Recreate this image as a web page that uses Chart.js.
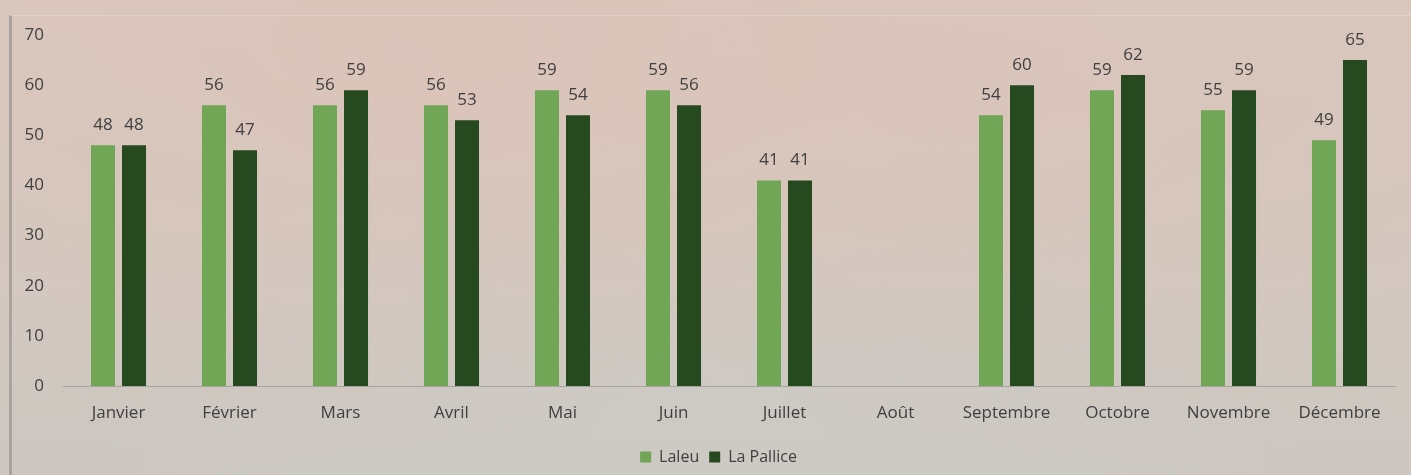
<!DOCTYPE html>
<html>
<head>
<meta charset="utf-8">
<script src="https://cdn.jsdelivr.net/npm/chart.js@4"></script>
<style>
  html, body { margin: 0; padding: 0; }
  body {
    width: 1411px; height: 475px; overflow: hidden;
    background:
      radial-gradient(ellipse at 30% 10%, rgba(220,195,185,0.8), rgba(220,195,185,0) 60%),
      radial-gradient(ellipse at 75% 20%, rgba(218,196,186,0.7), rgba(218,196,186,0) 55%),
      radial-gradient(ellipse at 50% 95%, rgba(205,202,196,0.9), rgba(205,202,196,0) 60%),
      linear-gradient(#d8c8bf, #d2c8c0 60%, #ccc7c1);
    font-family: "Open Sans", sans-serif;
  }
  #cadre {
    position: absolute; left: 9px; top: 15px; width: 1402px; height: 460px;
    border-left: 3px solid #aaa29d; border-top: 1px solid rgba(235,228,222,0.4);
    box-sizing: border-box;
  }
  #wrap { position: absolute; left: 0; top: 0; width: 1411px; height: 475px; }
</style>
</head>
<body>
<div id="cadre"></div>
<div id="wrap"><canvas id="myChart" width="1411" height="475"></canvas></div>
<script>
// Données
const mois = ["Janvier", "Février", "Mars", "Avril", "Mai", "Juin", "Juillet", "Août", "Septembre", "Octobre", "Novembre", "Décembre"];
const laleu = [48, 56, 56, 56, 59, 59, 41, null, 54, 59, 55, 49];
const laPallice = [48, 47, 59, 53, 54, 56, 41, null, 60, 62, 59, 65];
const yTicks = [0, 10, 20, 30, 40, 50, 60, 70];

// Plugin pour écrire les valeurs au-dessus des barres
const etiquettes = {
    id: "etiquettes",
    afterLayout(chart) {
        // la légende est un peu décalée vers la droite dans l'original
        chart.legend.left += 21;
        chart.legend.right += 21;
    },
    afterDatasetsDraw(chart) {
        const ctx = chart.ctx;
        ctx.save();
        ctx.font = "17px 'Open Sans'";
        ctx.fillStyle = "#404040";
        ctx.textAlign = "center";
        ctx.textBaseline = "alphabetic";
        chart.data.datasets.forEach((ds, i) => {
            chart.getDatasetMeta(i).data.forEach((bar, j) => {
                if (ds.data[j] == null) return;
                ctx.fillText(ds.data[j], bar.x, bar.y - 15);
            });
        });
        ctx.restore();
    }
};

const config = {
    type: "bar",
    data: {
        labels: mois,
        datasets: [
            { label: "Laleu", data: laleu, backgroundColor: "#70a655" },
            { label: "La Pallice", data: laPallice, backgroundColor: "#26491f" }
        ]
    },
    options: {
        responsive: false,
        animation: false,
        categoryPercentage: 0.559,
        barPercentage: 0.774,
        layout: { padding: { top: 35, right: 16, left: 0, bottom: 0 } },
        plugins: {
            legend: {
                position: "bottom",
                labels: {
                    boxWidth: 11, boxHeight: 11, padding: 10,
                    color: "#404040", font: { family: "'Open Sans'", size: 16 }
                }
            },
            tooltip: { enabled: false }
        },
        scales: {
            x: {
                afterFit(scale) { scale.height = 53; },
                grid: { display: false },
                border: { color: "#a6a29e", width: 1 },
                ticks: { color: "#404040", padding: 9, font: { family: "'Open Sans'", size: 17 }, maxRotation: 0 }
            },
            y: {
                min: 0, max: 70,
                afterFit(scale) { scale.width = 63; },
                afterBuildTicks(scale) { scale.ticks = yTicks.map(v => ({ value: v })); },
                grid: { display: false, drawTicks: false },
                border: { display: false },
                ticks: { color: "#404040", padding: 19, font: { family: "'Open Sans'", size: 17 } }
            }
        }
    },
    plugins: [etiquettes]
};

const chartDOM = document.getElementById("myChart");
window.grafica = new Chart(chartDOM, config);
</script>
</body>
</html>
